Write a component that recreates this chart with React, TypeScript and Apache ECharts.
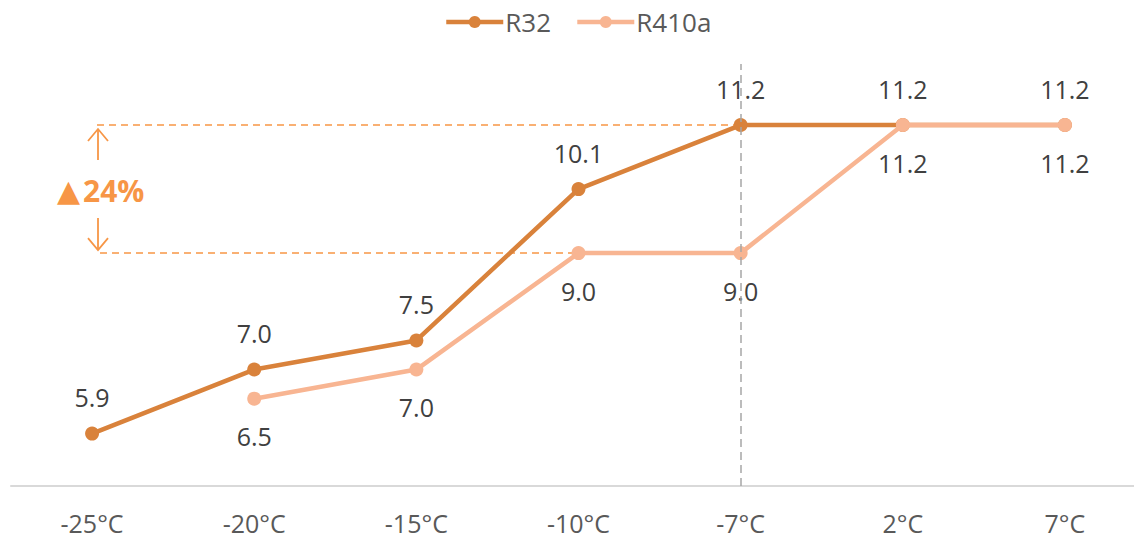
import React, { useEffect, useRef } from "react";
import * as echarts from "echarts";

const categories = ["-25°C", "-20°C", "-15°C", "-10°C", "-7°C", "2°C", "7°C"];
const r32 = [5.9, 7.0, 7.5, 10.1, 11.2, 11.2, 11.2];
const r410a: (number | null)[] = [null, 6.5, 7.0, 9.0, 9.0, 11.2, 11.2];
const annotationMark = "▲";
const annotationValue = "24%";

const C32 = "#D9823B";
const C410 = "#F8B592";
const CANN = "#F79646";
const FONT = "Open Sans";

export default function App() {
  const ref = useRef<HTMLDivElement>(null);
  useEffect(() => {
    if (!ref.current) return;
    const chart = echarts.init(ref.current, null, { renderer: "svg" });
    chart.setOption({
      animation: false,
      textStyle: { fontFamily: FONT },
      legend: {
        top: 4,
        left: 439,
        itemWidth: 57,
        itemHeight: 15,
        itemGap: 24,
        lineStyle: { width: 4.5 },
        textStyle: { fontSize: 26, color: "#595959", fontFamily: FONT, padding: [0, 0, 0, -3] },
        data: ["R32", "R410a"],
      },
      grid: { left: 11, right: 0, top: 61, bottom: 54, containLabel: false },
      xAxis: {
        type: "category",
        data: categories,
        boundaryGap: true,
        axisLine: { lineStyle: { color: "#D9D9D9", width: 2 } },
        axisTick: { show: false },
        axisLabel: { fontSize: 25, color: "#595959", margin: 24, fontFamily: FONT },
      },
      yAxis: {
        type: "value",
        min: 5,
        max: 12.3,
        show: false,
        splitLine: { show: false },
      },
      series: [
        {
          name: "R32",
          type: "line",
          data: r32,
          color: C32,
          lineStyle: { width: 4.5, color: C32 },
          symbol: "circle",
          symbolSize: 14,
          itemStyle: { color: C32 },
          z: 3,
          label: {
            show: true,
            position: "top",
            distance: 17,
            fontSize: 25,
            color: "#404040",
            fontFamily: FONT,
            formatter: (p: any) => Number(p.value).toFixed(1),
          },
          markLine: {
            silent: true,
            symbol: "none",
            label: { show: false },
            lineStyle: { type: [8, 5], color: "#A6A6A6", width: 1.5 },
            data: [[{ coord: ["-7°C", 5] }, { coord: ["-7°C", 12.25] }]],
          },
        },
        {
          name: "R410a",
          type: "line",
          data: r410a,
          color: C410,
          lineStyle: { width: 4.5, color: C410 },
          symbol: "circle",
          symbolSize: 14,
          itemStyle: { color: C410 },
          z: 4,
          label: {
            show: true,
            position: "bottom",
            distance: 18,
            fontSize: 25,
            color: "#404040",
            fontFamily: FONT,
            formatter: (p: any) => Number(p.value).toFixed(1),
          },
        },
      ],
    });

    const pTop = chart.convertToPixel({ gridIndex: 0 }, ["-7°C", r32[4]]) as number[];
    const pBot = chart.convertToPixel({ gridIndex: 0 }, ["-10°C", r410a[3] as number]) as number[];
    const ax = 98;
    const x0 = 97;
    const midY = (pTop[1] + pBot[1]) / 2;
    const dash = { stroke: CANN, lineWidth: 1.5, lineDash: [7, 5] };
    const arr = { stroke: CANN, lineWidth: 1.8 };
    chart.setOption({
      graphic: [
        { type: "line", shape: { x1: x0, y1: pTop[1], x2: pTop[0], y2: pTop[1] }, style: dash, z: 1 },
        { type: "line", shape: { x1: x0 + 3, y1: pBot[1], x2: pBot[0], y2: pBot[1] }, style: dash, z: 1 },
        { type: "line", shape: { x1: ax, y1: pTop[1] + 4, x2: ax, y2: pTop[1] + 35 }, style: arr },
        { type: "polyline", shape: { points: [[ax - 10, pTop[1] + 16], [ax, pTop[1] + 4], [ax + 10, pTop[1] + 16]] }, style: { ...arr, fill: "none" } },
        { type: "line", shape: { x1: ax, y1: pBot[1] - 35, x2: ax, y2: pBot[1] - 3 }, style: arr },
        { type: "polyline", shape: { points: [[ax - 10, pBot[1] - 15], [ax, pBot[1] - 3], [ax + 10, pBot[1] - 15]] }, style: { ...arr, fill: "none" } },
        {
          type: "text",
          x: 57,
          y: midY + 1,
          style: {
            text: `{t|${annotationMark}}{n|${annotationValue}}`,
            textAlign: "left",
            textVerticalAlign: "middle",
            rich: {
              t: { fill: CANN, fontSize: 30, fontFamily: "DejaVu Sans", padding: [0, 3, 0, 0] },
              n: { fill: CANN, fontSize: 30, fontWeight: "bold", fontFamily: FONT },
            },
          },
        },
      ],
    });
    return () => chart.dispose();
  }, []);
  return (
    <div
      ref={ref}
      style={{ position: "fixed", left: 0, top: 0, width: 1146, height: 540, background: "#fff" }}
    />
  );
}
